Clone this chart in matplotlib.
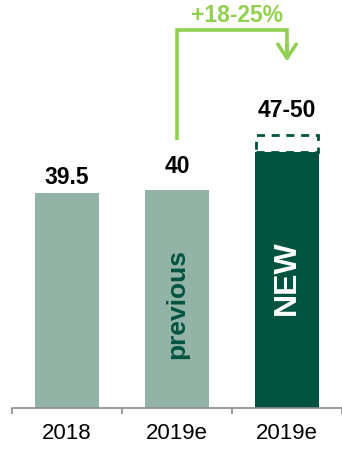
import matplotlib.pyplot as plt
from matplotlib.patches import Rectangle

# values
categories = ["2018", "2019e", "2019e"]
values = [39.5, 40, 47]
value_labels = ["39.5", "40", "47-50"]
range_low = 47
range_high = 50
inside_labels = ["", "previous", "NEW"]
growth_label = "+18-25%"

light = "#93b3a7"
dark = "#00543f"
lime = "#92d050"
bar_colors = [light, light, dark]
inside_colors = [None, dark, "white"]
label_gaps = [6, 12, 13]

plt.rcParams["font.family"] = ["Liberation Sans", "DejaVu Sans"]

fig = plt.figure(figsize=(3.42, 4.49), dpi=100)
ax = fig.add_axes([12 / 342, 41 / 449, 330 / 342, 408 / 449])

x = list(range(len(categories)))
width = 0.59
ax.bar(x, values, width=width, color=bar_colors, zorder=2)

# dashed range box on top of the new estimate
box = Rectangle((x[2] - width / 2 + 0.01, range_low), width - 0.02, range_high - range_low,
                fill=False, edgecolor=dark, lw=2.0, linestyle=(0, (2.9, 2.4)), zorder=1)
ax.add_patch(box)

tops = [values[0], values[1], range_high]
for xi, top, lab, gap in zip(x, tops, value_labels, label_gaps):
    ax.annotate(lab, (xi, top), xytext=(0, gap), textcoords="offset points",
                ha="center", va="baseline", fontsize=16.5, fontweight="bold")

for xi, v, lab, c in zip(x, values, inside_labels, inside_colors):
    if not lab:
        continue
    size = 19 if lab == "previous" else 23
    ymid = 19 if lab == "previous" else 24
    ax.text(xi, ymid, lab, rotation=90, ha="center", va="center",
            fontsize=size, fontweight="bold", color=c, zorder=3)

# growth arrow from previous to new
y_start, y_top, y_tip = 49.2, 69.4, 63.6
ax.plot([x[1], x[1], x[2], x[2]], [y_start, y_top, y_top, y_tip + 0.6], color=lime,
        lw=2.6, solid_joinstyle="miter", solid_capstyle="butt", zorder=3)
ax.annotate("", xy=(x[2], y_tip), xytext=(x[2], y_tip + 3),
            arrowprops=dict(arrowstyle="->,head_length=0.5,head_width=0.33",
                            color=lime, lw=2.6, mutation_scale=20,
                            shrinkA=0, shrinkB=0))
ax.text((x[1] + x[2]) / 2 + 0.05, y_top + 2.7, growth_label, ha="center", va="center",
        fontsize=16.5, fontweight="bold", color=lime)

ax.set_xlim(-0.5, -0.5 + 330 / 112)
ax.set_ylim(0, 408 / 5.45)

for s in ["top", "right", "left"]:
    ax.spines[s].set_visible(False)
ax.spines["bottom"].set_color("#8c8c8c")
ax.spines["bottom"].set_linewidth(1.2)
ax.set_yticks([])
ax.set_xticks(x)
ax.set_xticklabels(categories, fontsize=16)
ax.set_xticks([-0.5, 0.5, 1.5, 2.5], minor=True)
ax.tick_params(axis="x", which="major", length=0, pad=11)
ax.tick_params(axis="x", which="minor", length=4, width=1.2, color="#8c8c8c")

fig.savefig("out.png", dpi=100)
